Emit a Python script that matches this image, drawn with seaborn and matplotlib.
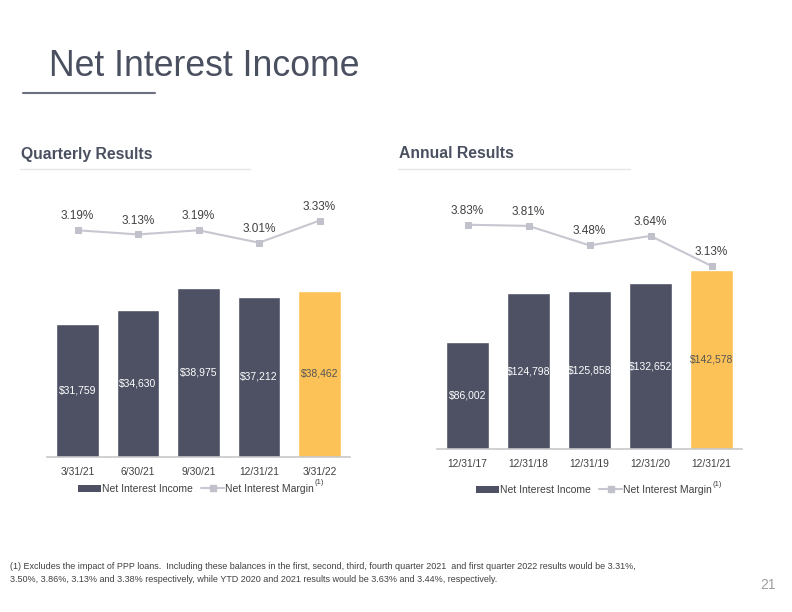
import matplotlib.pyplot as plt
import seaborn as sns
from matplotlib.lines import Line2D
from matplotlib.patches import Patch

sns.set_theme(style="white")
plt.rcParams['font.family'] = ['Liberation Sans', 'DejaVu Sans']

# Quarterly data
quarters = ['3/31/21', '6/30/21', '9/30/21', '12/31/21', '3/31/22']
nii_quarterly = [31759, 34630, 38975, 37212, 38462]
nim_quarterly = [3.19, 3.13, 3.19, 3.01, 3.33]

# Annual data
years = ['12/31/17', '12/31/18', '12/31/19', '12/31/20', '12/31/21']
nii_annual = [86002, 124798, 125858, 132652, 142578]
nim_annual = [3.83, 3.81, 3.48, 3.64, 3.13]

DARK = '#4d5163'
GOLD = '#fcc257'
LINE = '#c6c7d0'
TEXT = '#404040'

footnote = ("(1) Excludes the impact of PPP loans.  Including these balances in the first, second, third, "
            "fourth quarter 2021  and first quarter 2022 results would be 3.31%,\n"
            "3.50%, 3.86%, 3.13% and 3.38% respectively, while YTD 2020 and 2021 results would be "
            "3.63% and 3.44%, respectively.")


def draw_panel(fig, rect, cats, bars, margins, bar_lim, nim_lim, legend_xy):
    ax = fig.add_axes(rect)
    colors = [DARK] * (len(cats) - 1) + [GOLD]
    sns.barplot(x=cats, y=bars, hue=cats, palette=colors, legend=False,
                saturation=1, width=0.71, ax=ax)
    for i, cont in enumerate(ax.containers):
        lbl_color = '#555555' if i == len(ax.containers) - 1 else 'white'
        ax.bar_label(cont, labels=['${:,}'.format(int(round(v))) for v in cont.datavalues],
                     label_type='center', color=lbl_color, fontsize=7.5)
    ax.set_xlim(-0.5, len(cats) - 0.5)
    ax.set_ylim(*bar_lim)
    ax.set_yticks([])
    ax.set_ylabel('')
    for s in ['top', 'left', 'right']:
        ax.spines[s].set_visible(False)
    ax.spines['bottom'].set_color('#c8c8cc')
    ax.spines['bottom'].set_linewidth(1.2)
    ax.tick_params(axis='x', length=0, pad=7, labelsize=7.4, labelcolor=TEXT)

    ax2 = ax.twinx()
    sns.lineplot(x=cats, y=margins, ax=ax2, color=LINE, linewidth=1.5,
                 marker='s', markersize=5, markeredgecolor='#c0c1cb',
                 markerfacecolor='#c0c1cb')
    for c, m in zip(cats, margins):
        ax2.annotate('{:.2f}%'.format(m), (c, m), xytext=(0, 10), textcoords='offset points',
                     ha='center', va='center', fontsize=8.5, color=TEXT)
    ax2.set_ylim(*nim_lim)
    ax2.set_yticks([])
    ax2.set_ylabel('')
    for s in ax2.spines.values():
        s.set_visible(False)

    handles = [Patch(facecolor=DARK, edgecolor='none'),
               Line2D([], [], color=LINE, linewidth=1.5, marker='s', markersize=4,
                      markerfacecolor='#c0c1cb', markeredgecolor='#c0c1cb')]
    leg = fig.legend(handles, ['Net Interest Income', 'Net Interest Margin'], ncol=2,
                     loc='center', bbox_to_anchor=legend_xy, frameon=False,
                     fontsize=7.5, handlelength=2.2, handletextpad=0.1,
                     columnspacing=0.8, borderpad=0, labelcolor=TEXT)
    return leg


fig = plt.figure(figsize=(7.92, 6.12), dpi=100)
fig.patch.set_facecolor('white')

W, H = 792.0, 612.0

leg_q = draw_panel(fig, [47.25 / W, 155 / H, 302.5 / W, 257 / H], quarters, nii_quarterly,
                   nim_quarterly, (5100, 56600), (-0.096, 3.629), (196 / W, 1 - 489 / H))
leg_a = draw_panel(fig, [437 / W, 162.7 / H, 305 / W, 249.3 / H], years, nii_annual,
                   nim_annual, (1300, 198060), (0.023, 4.249), (594 / W, 1 - 490 / H))

# page title and section headers
fig.text(49 / W, 1 - 66 / H, 'Net Interest Income', fontsize=25.7, color='#4a5060',
         ha='left', va='center')
fig.add_artist(Line2D([23 / W, 155 / W], [1 - 93 / H, 1 - 93 / H], color='#6b7080', linewidth=1.5))
fig.text(21 / W, 1 - 154 / H, 'Quarterly Results', fontsize=11.3, fontweight='bold',
         color='#4a5060', ha='left', va='center')
fig.text(399 / W, 1 - 154 / H, 'Annual Results', fontsize=11.3, fontweight='bold',
         color='#4a5060', ha='left', va='center')
fig.add_artist(Line2D([20 / W, 250 / W], [1 - 169 / H, 1 - 169 / H], color='#e6e6e8', linewidth=1))
fig.add_artist(Line2D([398 / W, 630 / W], [1 - 169 / H, 1 - 169 / H], color='#e6e6e8', linewidth=1))

fig.text(10 / W, 1 - 573 / H, footnote, fontsize=6.45, color=TEXT, ha='left', va='center',
         family=['Liberation Sans Narrow', 'Liberation Sans'], linespacing=1.6)
fig.text(768 / W, 1 - 585 / H, '21', fontsize=10, color='#a0a0a0', ha='center', va='center')

# superscript (1) after the margin legend entry
fig.canvas.draw()
for leg in [leg_q, leg_a]:
    bb = leg.get_texts()[1].get_window_extent()
    fig.text((bb.x1 + 1) / W, (bb.y1 + 1) / H, '(1)', fontsize=5.5, color=TEXT,
             ha='left', va='center')

fig.savefig('out.png', dpi=100, facecolor='white')
